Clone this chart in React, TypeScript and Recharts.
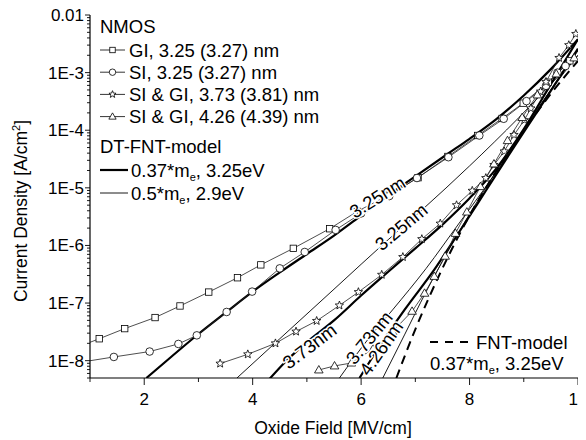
import React from "react";
import { LineChart, Line, XAxis, YAxis, ReferenceDot } from "recharts";

const FONT = "'Liberation Sans', Arial, sans-serif";

// measured series [oxide field MV/cm, current density A/cm2]
const GI_325: [number, number][] = [
  [0.7, 1.62e-8], [1.17, 2.4e-8], [1.64, 3.6e-8], [2.2, 5.6e-8], [2.66, 8.9e-8],
  [3.19, 1.55e-7], [3.72, 2.75e-7], [4.15, 4.6e-7], [4.75, 8.9e-7], [5.42, 1.95e-6],
  [5.93, 3.9e-6], [6.5, 7.4e-6], [7.05, 1.5e-5], [7.6, 3.5e-5], [8.15, 8.1e-5],
  [8.6, 1.6e-4], [8.99, 2.95e-4], [9.45, 6.8e-4], [9.85, 1.6e-3],
];
const SI_325: [number, number][] = [
  [0.8, 9.3e-9], [1.44, 1.16e-8], [2.1, 1.44e-8], [2.63, 1.95e-8], [2.97, 2.75e-8],
  [3.52, 7.0e-8], [3.99, 1.58e-7], [4.5, 4.0e-7], [4.96, 7.7e-7], [5.53, 1.86e-6],
  [6.0, 3.6e-6], [6.52, 7.2e-6], [7.03, 1.48e-5], [7.61, 3.4e-5], [8.18, 8.1e-5],
  [8.63, 1.58e-4], [9.05, 3.2e-4], [9.41, 5.9e-4], [9.62, 1.0e-3], [9.77, 1.3e-3],
];
const SIGI_373: [number, number][] = [
  [3.4, 8.9e-9], [3.91, 1.29e-8], [4.42, 2.0e-8], [4.8, 3.2e-8], [5.18, 4.9e-8],
  [5.6, 9.1e-8], [5.95, 1.55e-7], [6.38, 3.1e-7], [6.77, 6.3e-7], [7.12, 1.29e-6],
  [7.46, 2.4e-6], [7.76, 5.0e-6], [8.05, 8.9e-6], [8.3, 1.48e-5], [8.45, 2.5e-5],
  [8.64, 4.3e-5], [8.82, 8.3e-5], [9.01, 1.5e-4], [9.13, 2.4e-4], [9.31, 4.7e-4],
  [9.41, 6.9e-4], [9.65, 1.8e-3], [9.83, 3.0e-3], [9.96, 4.7e-3],
];
const SIGI_426: [number, number][] = [
  [5.22, 6.9e-9], [5.51, 8.1e-9], [5.82, 9.1e-9], [6.22, 1.6e-8], [6.58, 3.2e-8],
  [6.94, 7.2e-8], [7.17, 1.48e-7], [7.35, 2.9e-7], [7.55, 6.5e-7], [7.74, 1.62e-6],
  [7.95, 3.8e-6], [8.2, 1.05e-5], [8.45, 2.6e-5], [8.7, 6.6e-5], [8.97, 1.66e-4],
  [9.25, 4.1e-4], [9.6, 9.5e-4], [9.93, 1.8e-3],
];

// DT-FNT model, 0.37*me, 3.25eV (thick)
const DT_A_325: [number, number][] = [
  [2.04, 5.0e-9], [2.5, 1.17e-8], [3.0, 2.9e-8], [3.5, 6.8e-8], [4.0, 1.58e-7],
  [4.5, 3.4e-7], [5.0, 7.1e-7], [5.5, 1.48e-6], [6.0, 3.3e-6], [6.5, 7.4e-6],
  [7.0, 1.58e-5], [7.6, 3.9e-5], [8.0, 7.1e-5], [8.5, 1.58e-4], [9.0, 4.0e-4],
  [9.5, 1.15e-3], [10, 3.8e-3],
];
const DT_A_373: [number, number][] = [
  [4.3, 4.7e-9], [4.6, 9.5e-9], [5.0, 2.1e-8], [5.5, 5.0e-8], [6.0, 1.35e-7],
  [6.5, 3.5e-7], [7.0, 8.9e-7], [7.5, 2.3e-6], [8.0, 6.6e-6], [8.5, 2.2e-5],
  [9.0, 1.05e-4], [9.5, 6.3e-4], [10, 3.8e-3],
];
const DT_A_426: [number, number][] = [
  [5.97, 5.0e-9], [6.34, 1.78e-8], [6.8, 7.6e-8], [7.35, 3.8e-7], [7.8, 1.66e-6],
  [8.3, 8.9e-6], [8.8, 4.8e-5], [9.3, 2.5e-4], [9.7, 9.5e-4], [10, 2.6e-3],
];
// DT-FNT model, 0.5*me, 2.9eV (thin)
const DT_B_325: [number, number][] = [
  [3.71, 5.0e-9], [4.5, 2.4e-8], [5.5, 1.74e-7], [6.5, 1.26e-6], [7.13, 4.2e-6],
  [8.0, 2.4e-5], [8.91, 1.66e-4], [9.5, 6.3e-4], [10, 2.0e-3],
];
const DT_B_373: [number, number][] = [
  [5.6, 5.0e-9], [6.15, 2.5e-8], [6.58, 7.6e-8], [7.2, 4.0e-7], [7.81, 2.45e-6],
  [8.4, 1.41e-5], [9.0, 9.5e-5], [9.5, 5.0e-4], [10, 2.4e-3],
];
const DT_B_426: [number, number][] = [
  [6.4, 5.0e-9], [6.8, 2.8e-8], [7.2, 1.58e-7], [7.6, 7.9e-7], [8.0, 3.5e-6],
  [8.5, 2.0e-5], [9.0, 1.05e-4], [9.5, 5.0e-4], [10, 2.0e-3],
];
// FNT model, 0.37*me, 3.25eV (dashed)
const FNT: [number, number][] = [
  [6.65, 5.0e-9], [7.0, 3.5e-8], [7.5, 4.0e-7], [8.0, 3.3e-6], [8.5, 2.0e-5],
  [9.0, 1.0e-4], [9.5, 4.3e-4], [10, 1.6e-3],
];

const X_TICKS = [1, 2, 3, 4, 5, 6, 7, 8, 9, 10];
const Y_MAJOR = [1e-8, 1e-7, 1e-6, 1e-5, 1e-4, 1e-3, 1e-2];
const Y_LABELS = ["1E-8", "1E-7", "1E-6", "1E-5", "1E-4", "1E-3", "0.01"];
const MANTISSAS = [2, 3, 4, 5, 6, 7, 8, 9];
const Y_TICKS = [5e-9, 6e-9, 7e-9, 8e-9, 9e-9];
Y_MAJOR.slice(0, -1).forEach((d) => MANTISSAS.forEach((m) => Y_TICKS.push(m * d)));
Y_TICKS.push(...Y_MAJOR);

const LEGEND_ITEMS = [
  { kind: "square", label: "GI, 3.25 (3.27) nm" },
  { kind: "circle", label: "SI, 3.25 (3.27) nm" },
  { kind: "star", label: "SI & GI, 3.73 (3.81) nm" },
  { kind: "triangle", label: "SI & GI, 4.26 (4.39) nm" },
];

// thickness labels along the model curves
const CURVE_LABELS = [
  { text: "3.25nm", x: 6.3, y: 6.9e-6, angle: -32 },
  { text: "3.25nm", x: 6.74, y: 2.1e-6, angle: -40 },
  { text: "3.73nm", x: 5.05, y: 1.78e-8, angle: -37 },
  { text: "3.73nm", x: 6.15, y: 2.5e-8, angle: -51 },
  { text: "4.26nm", x: 6.37, y: 1.66e-8, angle: -55 },
];

const rows = (pts: [number, number][]) => pts.map(([x, y]) => ({ x, y }));

const starPoints = (cx: number, cy: number, ro: number, ri: number) => {
  const p: string[] = [];
  for (let i = 0; i < 10; i++) {
    const r = i % 2 === 0 ? ro : ri;
    const a = -Math.PI / 2 + (i * Math.PI) / 5;
    p.push(`${cx + r * Math.cos(a)},${cy + r * Math.sin(a)}`);
  }
  return p.join(" ");
};

const Marker = ({ kind, cx, cy, s = 1 }: { kind: string; cx: number; cy: number; s?: number }) => {
  const st = { fill: "#fff", stroke: "#000", strokeWidth: 0.8 };
  if (kind === "square") return <rect x={cx - 3.2 * s} y={cy - 3.2 * s} width={6.4 * s} height={6.4 * s} {...st} />;
  if (kind === "circle") return <circle cx={cx} cy={cy} r={3.8 * s} {...st} />;
  if (kind === "star") return <polygon points={starPoints(cx, cy, 4.4 * s, 1.9 * s)} {...st} />;
  return (
    <polygon
      points={`${cx},${cy - 4.4 * s} ${cx + 4.3 * s},${cy + 3 * s} ${cx - 4.3 * s},${cy + 3 * s}`}
      {...st}
    />
  );
};

const dotFor = (kind: string) => (p: any) => (
  <Marker key={`${kind}-${p.index}`} kind={kind} cx={p.cx} cy={p.cy} />
);

const YTick = (props: any) => {
  const { x, y, payload } = props;
  const idx = Y_MAJOR.findIndex((v) => Math.abs(v - payload.value) / v < 1e-6);
  const major = idx >= 0;
  return (
    <g>
      <line x1={x - (major ? 5 : 3)} x2={x} y1={y} y2={y} stroke="#000" strokeWidth={0.9} />
      {major && (
        <text x={x - 6} y={y} dy="0.35em" textAnchor="end" fontSize={17} fontFamily={FONT} fill="#000">
          {Y_LABELS[idx]}
        </text>
      )}
    </g>
  );
};

const XTick = (props: any) => {
  const { x, y, payload } = props;
  const major = payload.value % 2 === 0;
  return (
    <g>
      <line x1={x} x2={x} y1={y} y2={y + (major ? 7 : 4)} stroke="#000" strokeWidth={0.9} />
      {major && (
        <text x={x} y={y + 27} textAnchor="middle" fontSize={17} fontFamily={FONT} fill="#000">
          {payload.value}
        </text>
      )}
    </g>
  );
};

const CurveLabel = ({ cx, cy, text, angle }: any) => (
  <text
    x={cx}
    y={cy}
    dy="0.35em"
    textAnchor="middle"
    fontSize={18.5}
    fontFamily={FONT}
    fill="#000"
    stroke="#fff"
    strokeWidth={3}
    paintOrder="stroke"
    transform={`rotate(${angle} ${cx} ${cy})`}
  >
    {text}
  </text>
);

const Sub = ({ pre, post }: { pre: string; post: string }) => (
  <>
    {pre}
    <tspan fontSize={11} dy={4}>e</tspan>
    <tspan dy={-4}>{post}</tspan>
  </>
);

const App: React.FC = () => {
  return (
    <div style={{ position: "relative", width: 578, height: 432, fontFamily: FONT }}>
      <style>{`.recharts-surface{overflow:visible}`}</style>
      <LineChart width={578} height={432} margin={{ top: 7, right: 8, bottom: 0, left: 0 }}>
        <XAxis
          type="number"
          dataKey="x"
          domain={[1, 10]}
          ticks={X_TICKS}
          interval={0}
          allowDataOverflow
          height={62}
          tickLine={false}
          tickSize={0}
          tickMargin={0}
          tick={<XTick />}
          axisLine={{ stroke: "#000", strokeWidth: 1.2 }}
        />
        <YAxis
          type="number"
          scale="log"
          domain={[5e-9, 1e-2]}
          ticks={Y_TICKS}
          interval={0}
          allowDataOverflow
          width={82}
          tickLine={false}
          tickSize={0}
          tickMargin={0}
          tick={<YTick />}
          axisLine={{ stroke: "#000", strokeWidth: 1.2 }}
        />
        {[DT_B_325, DT_B_373, DT_B_426].map((d, i) => (
          <Line key={`b${i}`} data={rows(d)} dataKey="y" type="monotone" stroke="#000" strokeWidth={0.9}
            dot={false} activeDot={false} isAnimationActive={false} />
        ))}
        {[DT_A_325, DT_A_373, DT_A_426].map((d, i) => (
          <Line key={`a${i}`} data={rows(d)} dataKey="y" type="monotone" stroke="#000" strokeWidth={2.2}
            dot={false} activeDot={false} isAnimationActive={false} />
        ))}
        <Line data={rows(FNT)} dataKey="y" type="monotone" stroke="#000" strokeWidth={2}
          strokeDasharray="9 6" dot={false} activeDot={false} isAnimationActive={false} />
        {[GI_325, SI_325, SIGI_373, SIGI_426].map((d, i) => (
          <Line key={`m${i}`} data={rows(d)} dataKey="y" type="linear" stroke="#222" strokeWidth={0.8}
            dot={dotFor(LEGEND_ITEMS[i].kind)} activeDot={false} isAnimationActive={false} />
        ))}
        {CURVE_LABELS.map((l, i) => (
          <ReferenceDot key={`l${i}`} x={l.x} y={l.y} r={0} ifOverflow="visible"
            shape={(p: any) => <CurveLabel cx={p.cx} cy={p.cy} text={l.text} angle={l.angle} />} />
        ))}
      </LineChart>
      <svg width={578} height={432} style={{ position: "absolute", left: 0, top: 0, pointerEvents: "none", overflow: "visible" }}>
        <g transform="translate(-8,-8)" fontFamily={FONT} fontSize={18.5} fill="#000">
          <text x={100} y={33}>NMOS</text>
          {LEGEND_ITEMS.map((it, i) => {
            const y = 50 + i * 22.2;
            return (
              <g key={it.kind}>
                <line x1={100} x2={125} y1={y} y2={y} stroke="#000" strokeWidth={0.8} />
                <Marker kind={it.kind} cx={112.5} cy={y} s={0.85} />
                <text x={129} y={y + 6.5}>{it.label}</text>
              </g>
            );
          })}
          <text x={100} y={153}>DT-FNT-model</text>
          <line x1={100} x2={128} y1={170} y2={170} stroke="#000" strokeWidth={2.2} />
          <text x={131} y={176.5}><Sub pre="0.37*m" post=", 3.25eV" /></text>
          <line x1={100} x2={128} y1={193} y2={193} stroke="#000" strokeWidth={0.9} />
          <text x={131} y={199.5}><Sub pre="0.5*m" post=", 2.9eV" /></text>
          <line x1={430} x2={471} y1={342} y2={342} stroke="#000" strokeWidth={2} strokeDasharray="8 7" />
          <text x={476} y={348.5}>FNT-model</text>
          <text x={430} y={369.5}><Sub pre="0.37*m" post=", 3.25eV" /></text>
          <text x={333} y={434} textAnchor="middle" fontSize={17.5}>Oxide Field [MV/cm]</text>
          <text transform="translate(27,211) rotate(-90)" textAnchor="middle" fontSize={17.5}>
            Current Density [A/cm<tspan fontSize={11} dy={-7}>2</tspan><tspan dy={7}>]</tspan>
          </text>
        </g>
      </svg>
    </div>
  );
};

export default App;
